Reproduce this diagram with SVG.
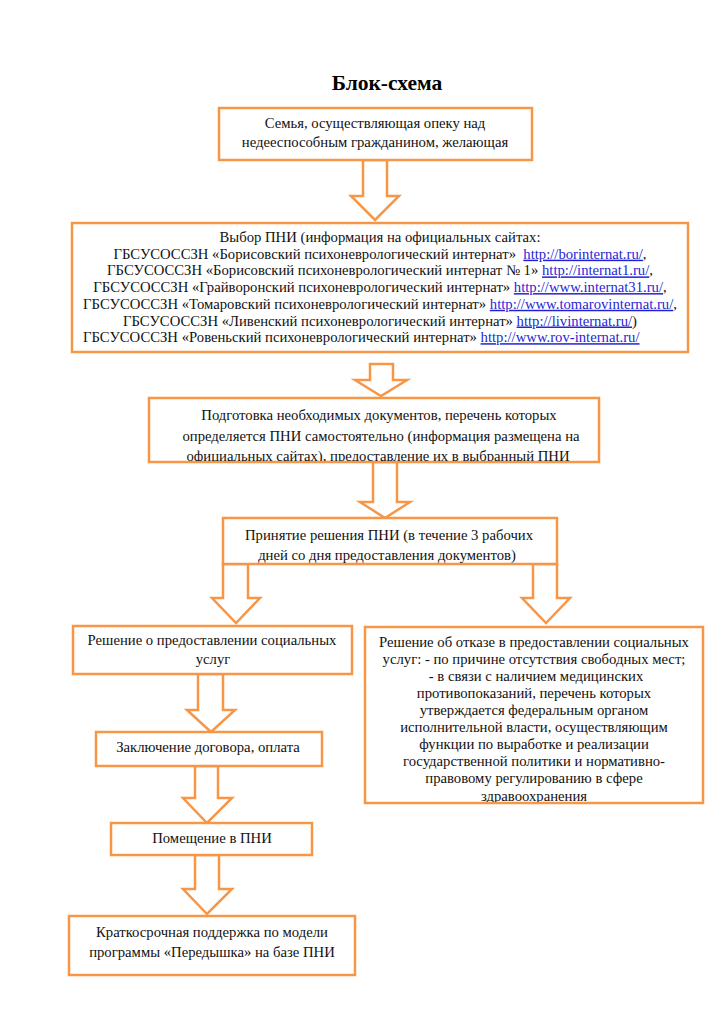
<svg xmlns="http://www.w3.org/2000/svg" width="724" height="1024" viewBox="0 0 724 1024" font-family="'Liberation Serif', serif">
<style>
.box{fill:#fff;stroke:#F79646;stroke-width:2.5}
.arr{fill:#fff;stroke:#F79646;stroke-width:2.5;stroke-linejoin:miter}
.t{font-size:14.7px;fill:#111}
.c{text-anchor:middle}
.u{fill:#1f1fd6;text-decoration:underline}
.title{font-size:21.5px;font-weight:bold;fill:#000;text-anchor:middle}
</style>
<defs>
<clipPath id="clip3"><rect x="150" y="399" width="448" height="62"/></clipPath>
<clipPath id="clip9"><rect x="366" y="628" width="336" height="174"/></clipPath>
</defs>
<rect width="724" height="1024" fill="#fff"/>
<text class="title" x="387" y="90">Блок-схема</text>

<g id="connectors">
<polygon class="arr" points="363,160 387,160 387,196 399,196 375,220 351,196 363,196"/>
<polygon class="arr" points="370,364 393,364 393,380 407,380 381,396 355,380 370,380"/>
<polygon class="arr" points="373,462 397,462 397,502 410,502 385,518 360,502 373,502"/>
<polygon class="arr" points="223,564 248,564 248,598 260,598 236,623 212,598 223,598"/>
<polygon class="arr" points="533,564 557,564 557,598 570,598 546,623 522,598 533,598"/>
<polygon class="arr" points="198,674 223,674 223,710 235,710 211,732 187,710 198,710"/>
<polygon class="arr" points="195,766 218,766 218,798 232,798 207,823 183,798 195,798"/>
<polygon class="arr" points="195,855 219,855 219,889 232,889 207,914 183,889 195,889"/>
</g>

<g id="n1">
<rect class="box" x="219" y="108" width="313" height="52"/>
<text class="t c" x="375" y="128">Семья, осуществляющая опеку над</text>
<text class="t c" x="375" y="147">недееспособным гражданином, желающая</text>
</g>

<g id="n2">
<rect class="box" x="72" y="223" width="616" height="129"/>
<text class="t c" x="380" y="242">Выбор ПНИ (информация на официальных сайтах:</text>
<text class="t c" x="380" y="258.7">ГБСУСОССЗН «Борисовский психоневрологический интернат»&#160; <tspan class="u">http://borinternat.ru/</tspan>,</text>
<text class="t c" x="380" y="275.4">ГБСУСОССЗН «Борисовский психоневрологический интернат № 1» <tspan class="u">http://internat1.ru/</tspan>,</text>
<text class="t c" x="380" y="292.1">ГБСУСОССЗН «Грайворонский психоневрологический интернат» <tspan class="u">http://www.internat31.ru/</tspan>,</text>
<text class="t c" x="380" y="308.8">ГБСУСОССЗН «Томаровский психоневрологический интернат» <tspan class="u">http://www.tomarovinternat.ru/</tspan>,</text>
<text class="t c" x="380" y="325.5">ГБСУСОССЗН «Ливенский психоневрологический интернат» <tspan class="u">http://livinternat.ru/</tspan>)</text>
<text class="t" x="83" y="342.2">ГБСУСОССЗН «Ровеньский психоневрологический интернат» <tspan class="u">http://www.rov-internat.ru/</tspan></text>
</g>

<g id="n3">
<rect class="box" x="149" y="398" width="450" height="64"/>
<g clip-path="url(#clip3)">
<text class="t c" x="379" y="420">Подготовка необходимых документов, перечень которых</text>
<text class="t c" x="381" y="441">определяется ПНИ самостоятельно (информация размещена на</text>
<text class="t c" x="378" y="461">официальных сайтах), предоставление их в выбранный ПНИ</text>
</g>
</g>

<g id="n4">
<rect class="box" x="223" y="518" width="334" height="46"/>
<text class="t c" x="389" y="540">Принятие решения ПНИ (в течение 3 рабочих</text>
<text class="t c" x="387" y="559.5">дней со дня предоставления документов)</text>
</g>

<g id="n5">
<rect class="box" x="73" y="626" width="279" height="48"/>
<text class="t c" x="212" y="645">Решение о предоставлении социальных</text>
<text class="t c" x="213" y="664">услуг</text>
</g>

<g id="n6">
<rect class="box" x="96" y="732" width="226" height="34"/>
<text class="t c" x="208" y="752">Заключение договора, оплата</text>
</g>

<g id="n7">
<rect class="box" x="111" y="823" width="201" height="32"/>
<text class="t c" x="212" y="843">Помещение в ПНИ</text>
</g>

<g id="n8">
<rect class="box" x="69" y="916" width="286" height="59"/>
<text class="t c" x="212" y="937">Краткосрочная поддержка по модели</text>
<text class="t c" x="212" y="957">программы «Передышка» на базе ПНИ</text>
</g>

<g id="n9">
<rect class="box" x="365" y="627" width="338" height="176"/>
<g clip-path="url(#clip9)">
<text class="t c" x="534" y="646.5">Решение об отказе в предоставлении социальных</text>
<text class="t c" x="534" y="663.5">услуг: - по причине отсутствия свободных мест;</text>
<text class="t c" x="536" y="680.5">- в связи с наличием медицинских</text>
<text class="t c" x="534" y="697.5">противопоказаний, перечень которых</text>
<text class="t c" x="534" y="714.5">утверждается федеральным органом</text>
<text class="t c" x="534" y="731.5">исполнительной власти, осуществляющим</text>
<text class="t c" x="534" y="748.5">функции по выработке и реализации</text>
<text class="t c" x="534" y="765.5">государственной политики и нормативно-</text>
<text class="t c" x="534" y="782.5">правовому регулированию в сфере</text>
<text class="t c" x="534" y="800.5">здравоохранения</text>
</g>
</g>
</svg>
